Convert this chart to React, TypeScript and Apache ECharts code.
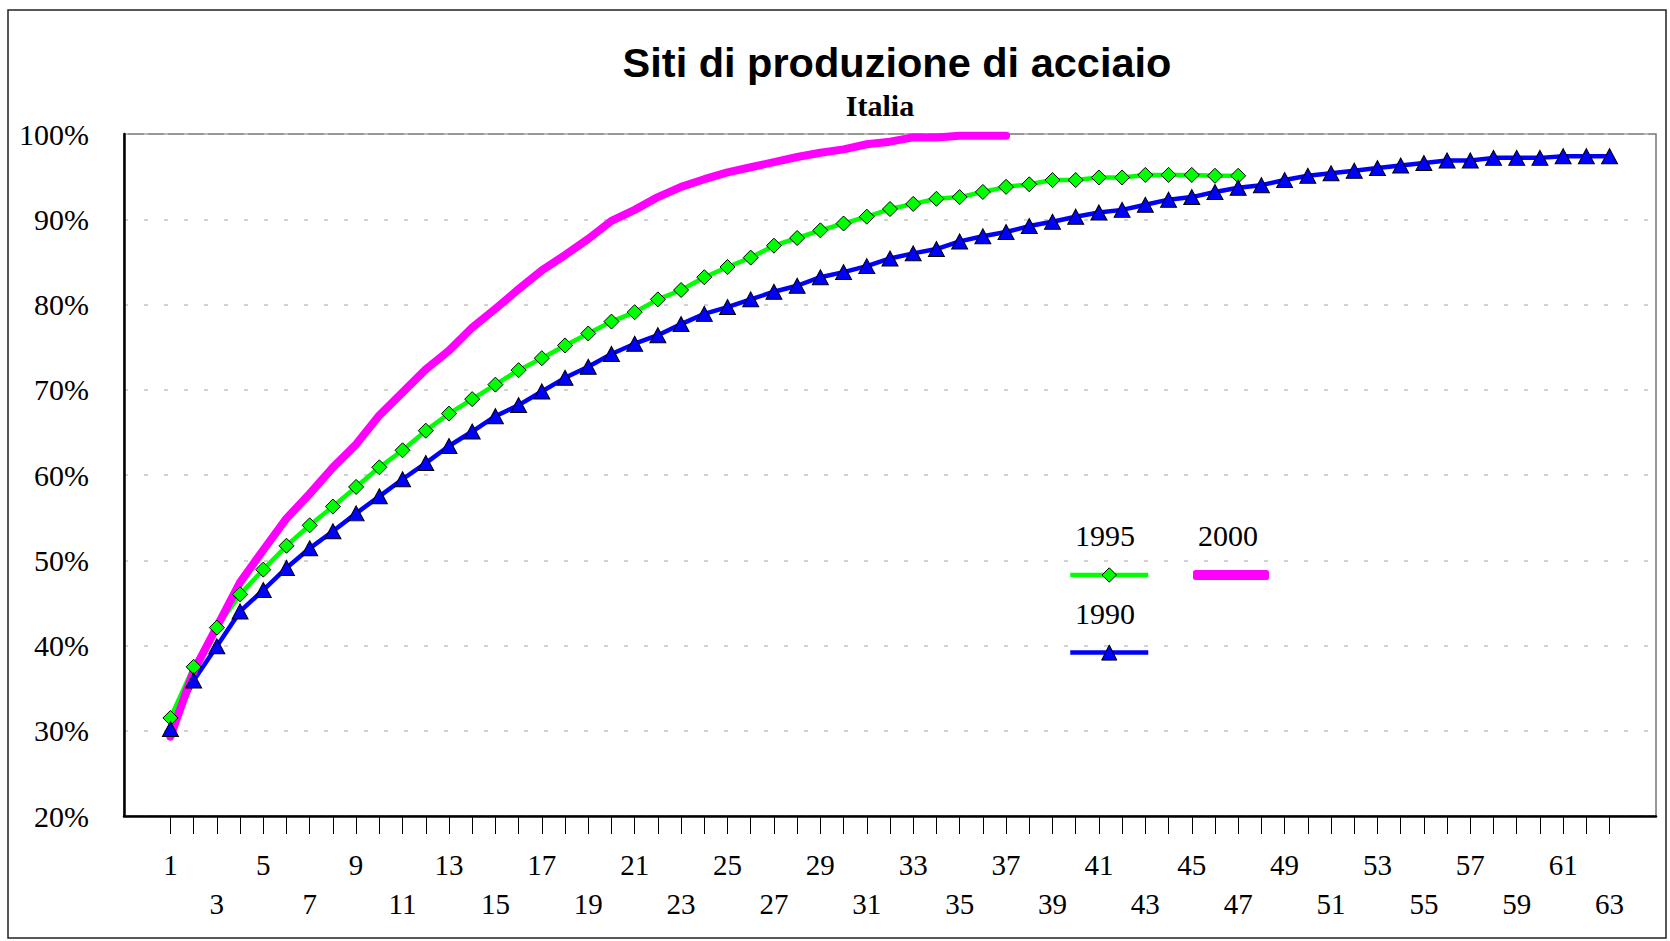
import React, { useEffect, useRef } from 'react';
import * as echarts from 'echarts';

// ---- Data ----
const categories = [
  1, 2, 3, 4, 5, 6, 7, 8, 9, 10, 11, 12, 13, 14, 15, 16, 17, 18, 19, 20, 21,
  22, 23, 24, 25, 26, 27, 28, 29, 30, 31, 32, 33, 34, 35, 36, 37, 38, 39, 40,
  41, 42, 43, 44, 45, 46, 47, 48, 49, 50, 51, 52, 53, 54, 55, 56, 57, 58, 59,
  60, 61, 62, 63,
];
const xLabelValues = [
  1, 3, 5, 7, 9, 11, 13, 15, 17, 19, 21, 23, 25, 27, 29, 31, 33, 35, 37, 39,
  41, 43, 45, 47, 49, 51, 53, 55, 57, 59, 61, 63,
];

const y1990 = [
  30.2, 35.9, 39.9, 44.0, 46.5, 49.1, 51.4, 53.4, 55.5, 57.5, 59.5, 61.4, 63.4,
  65.1, 66.9, 68.2, 69.8, 71.4, 72.7, 74.2, 75.4, 76.4, 77.7, 78.9, 79.7, 80.6,
  81.5, 82.2, 83.2, 83.8, 84.5, 85.4, 86.0, 86.5, 87.4, 88.0, 88.5, 89.2, 89.7,
  90.3, 90.8, 91.1, 91.7, 92.3, 92.6, 93.2, 93.7, 94.0, 94.6, 95.1, 95.4, 95.7,
  96.0, 96.3, 96.6, 96.9, 96.9, 97.2, 97.2, 97.2, 97.4, 97.4, 97.4,
];
const y1995 = [
  31.5, 37.5, 42.1, 46.0, 48.9, 51.7, 54.1, 56.3, 58.6, 60.9, 62.9, 65.2, 67.2,
  68.9, 70.6, 72.3, 73.7, 75.2, 76.6, 78.0, 79.1, 80.6, 81.7, 83.2, 84.4, 85.5,
  86.9, 87.8, 88.7, 89.5, 90.3, 91.2, 91.8, 92.4, 92.6, 93.2, 93.8, 94.1, 94.6,
  94.6, 94.9, 94.9, 95.2, 95.2, 95.2, 95.1, 95.1,
];
const y2000 = [
  29.3, 37.0, 42.2, 47.4, 51.2, 54.9, 57.8, 60.9, 63.6, 67.0, 69.7, 72.4, 74.6,
  77.3, 79.5, 81.8, 84.0, 85.8, 87.7, 89.8, 91.1, 92.6, 93.8, 94.7, 95.5, 96.1,
  96.7, 97.3, 97.8, 98.2, 98.8, 99.1, 99.6, 99.6, 99.8, 99.8, 99.8,
];

const titleText = 'Siti di produzione di acciaio';
const subtitleText = 'Italia';

const SERIF = '"Liberation Serif", "Times New Roman", serif';
const SANS = '"Liberation Sans", Arial, sans-serif';

const toPairs = (vals: number[]) => vals.map((v, i) => [categories[i], v]);

export default function App() {
  const ref = useRef<HTMLDivElement>(null);

  useEffect(() => {
    const chart = echarts.init(ref.current!, null, { renderer: 'svg' });
    chart.setOption({
      animation: false,
      backgroundColor: '#ffffff',
      title: [
        {
          text: titleText,
          left: 892,
          top: 36,
          textAlign: 'center',
          textStyle: { fontFamily: SANS, fontWeight: 'bold', fontSize: 41.5, color: '#000' },
        },
        {
          text: subtitleText,
          left: 875,
          top: 85,
          textAlign: 'center',
          textStyle: { fontFamily: SERIF, fontWeight: 'bold', fontSize: 30, color: '#000' },
        },
      ],
      grid: {
        left: 124,
        right: 14,
        top: 134,
        bottom: 125,
        show: true,
        borderColor: '#777',
        borderWidth: 1.5,
        backgroundColor: 'transparent',
      },
      xAxis: {
        type: 'value',
        min: -1,
        max: 65,
        interval: 1,
        axisLine: { show: true, onZero: false, lineStyle: { color: '#000', width: 2.5 } },
        axisTick: {
          show: true,
          customValues: categories,
          length: 18,
          lineStyle: { color: '#000', width: 1 },
        },
        axisLabel: {
          customValues: xLabelValues,
          margin: 29,
          formatter: (v: number) => ((v - 1) % 4 === 0 ? `${v}\n ` : ` \n${v}`),
          fontFamily: SERIF,
          fontSize: 29,
          lineHeight: 39,
          color: '#000',
        },
        splitLine: { show: false },
      },
      yAxis: {
        type: 'value',
        min: 20,
        max: 100,
        interval: 10,
        axisLine: { show: true, onZero: false, lineStyle: { color: '#000', width: 2.5 } },
        axisTick: { show: false },
        axisLabel: {
          formatter: '{value}%',
          margin: 35,
          fontFamily: SERIF,
          fontSize: 30,
          color: '#000',
        },
        splitLine: { show: true, lineStyle: { color: '#c4c4c4', type: [4, 16], width: 1.5 } },
      },
      legend: [
        {
          data: ['1995'],
          left: 1068,
          top: 566,
          padding: 0,
          itemWidth: 78,
          itemHeight: 18,
          selectedMode: false,
          formatter: () => '',
          lineStyle: { color: '#00ff00', width: 4.5 },
          itemStyle: { color: '#00ff00', borderColor: '#000', borderWidth: 1 },
        },
        {
          data: [{ name: '2000', icon: 'roundRect' }],
          left: 1193,
          top: 570,
          padding: 0,
          itemWidth: 76,
          itemHeight: 10,
          selectedMode: false,
          formatter: () => '',
          itemStyle: { color: '#ff00ff', borderWidth: 0 },
        },
        {
          data: ['1990'],
          left: 1068,
          top: 643,
          padding: 0,
          itemWidth: 78,
          itemHeight: 19,
          selectedMode: false,
          formatter: () => '',
          lineStyle: { color: '#0000ff', width: 4.5 },
          itemStyle: { color: '#0000ff', borderColor: '#000', borderWidth: 1 },
        },
      ],
      graphic: [
        {
          type: 'rect',
          shape: { x: 8, y: 10, width: 1658, height: 928 },
          style: { fill: 'none', stroke: '#222', lineWidth: 1.5 },
          silent: true,
          z: -10,
        },
        {
          type: 'text',
          x: 1105,
          y: 535,
          style: { text: '1995', fontFamily: SERIF, fontSize: 30, fill: '#000', align: 'center', verticalAlign: 'middle' },
          silent: true,
        },
        {
          type: 'text',
          x: 1228,
          y: 535,
          style: { text: '2000', fontFamily: SERIF, fontSize: 30, fill: '#000', align: 'center', verticalAlign: 'middle' },
          silent: true,
        },
        {
          type: 'text',
          x: 1105,
          y: 613,
          style: { text: '1990', fontFamily: SERIF, fontSize: 30, fill: '#000', align: 'center', verticalAlign: 'middle' },
          silent: true,
        },
      ],
      series: [
        {
          name: '1995',
          type: 'line',
          data: toPairs(y1995),
          symbol: 'diamond',
          symbolSize: 15,
          lineStyle: { color: '#00ff00', width: 4.5 },
          itemStyle: { color: '#00ff00', borderColor: '#000', borderWidth: 1 },
          emphasis: { disabled: true },
        },
        {
          name: '1990',
          type: 'line',
          data: toPairs(y1990),
          symbol: 'triangle',
          symbolSize: [16, 15],
          lineStyle: { color: '#0000ff', width: 4.5 },
          itemStyle: { color: '#0000ff', borderColor: '#000', borderWidth: 1 },
          emphasis: { disabled: true },
        },
        {
          name: '2000',
          type: 'line',
          data: toPairs(y2000),
          symbol: 'none',
          clip: false,
          lineStyle: { color: '#ff00ff', width: 8, cap: 'round', join: 'round' },
          itemStyle: { color: '#ff00ff' },
          emphasis: { disabled: true },
        },
      ],
    });
    return () => chart.dispose();
  }, []);

  return (
    <div
      ref={ref}
      style={{ position: 'fixed', left: 0, top: 0, width: 1670, height: 941, background: '#fff' }}
    />
  );
}
